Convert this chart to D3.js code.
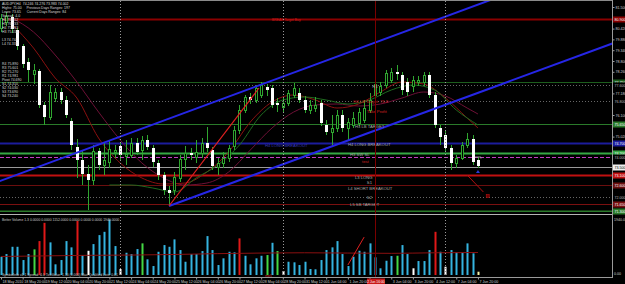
<!DOCTYPE html>
<html>
<head>
<meta charset="utf-8">
<script src="https://cdn.jsdelivr.net/npm/d3@7"></script>
<style>
    html, body { margin: 0; padding: 0; background: #000; }
    svg { display: block; font-family: "Liberation Sans", Arial, sans-serif; }
</style>
</head>
<body>
<svg id="chart" width="625" height="284"></svg>
<script>
// ---- chart data (AUDJPY, H4) ----
const timeLabels = ['18 May 2010', '18 May 20:00', '19 May 12:00', '20 May 04:00', '20 May 20:00',
    '21 May 12:00', '24 May 04:00', '24 May 20:00', '25 May 12:00', '26 May 04:00', '26 May 20:00',
    '27 May 12:00', '28 May 04:00', '28 May 20:00', '31 May 12:00', '1 Jun 04:00', '1 Jun 20:00',
    '2 Jun 12:00', '3 Jun 04:00', '3 Jun 20:00', '4 Jun 12:00', '7 Jun 04:00', '7 Jun 20:00'];

const opens = [80.45, 80.75, 81.00, 80.35, 79.55, 78.75, 78.15, 78.30, 76.60, 76.00,
    76.95, 77.25, 76.85, 75.80, 74.50, 73.85, 73.15, 72.85, 74.30, 73.60,
    73.75, 74.25, 74.55, 74.05, 74.10, 74.70, 74.35, 74.85, 74.45, 73.70,
    73.10, 72.35, 72.35, 72.95, 73.90, 74.20, 74.00, 74.20, 74.70, 74.35,
    73.50, 73.70, 73.95, 74.55, 75.35, 76.35, 77.00, 76.85, 77.10, 77.50,
    77.45, 76.70, 76.50, 76.70, 77.10, 77.20, 76.85, 76.35, 76.45, 76.70,
    75.60, 75.25, 75.45, 76.10, 75.45, 75.60, 75.70, 75.85, 76.35, 77.10,
    77.25, 77.60, 77.85, 78.25, 78.10, 77.75, 77.55, 77.75, 77.75, 78.10,
    77.10, 75.45, 75.10, 74.45, 73.70, 73.95, 74.60, 74.90, 73.85];
const highs = [81.15, 81.25, 81.15, 80.45, 79.65, 78.95, 78.65, 78.40, 76.75, 77.60,
    77.45, 77.45, 77.05, 75.95, 74.90, 74.35, 73.60, 74.60, 74.45, 74.70,
    74.85, 74.60, 74.75, 74.85, 74.95, 74.95, 75.05, 75.10, 74.60, 73.85,
    73.25, 72.55, 73.25, 74.10, 74.55, 74.45, 74.85, 74.95, 75.50, 74.50,
    73.95, 74.25, 74.60, 75.55, 76.60, 77.10, 77.20, 77.60, 77.75, 77.65,
    77.60, 76.95, 76.95, 77.35, 77.70, 77.45, 77.05, 76.85, 77.00, 76.85,
    75.85, 76.10, 76.35, 76.35, 75.95, 76.25, 76.45, 76.85, 77.20, 77.85,
    77.75, 78.35, 78.45, 78.60, 78.25, 77.95, 78.05, 78.05, 78.25, 78.25,
    77.25, 75.60, 75.35, 74.60, 74.10, 74.75, 75.20, 75.10, 74.00];
const lows = [80.25, 80.55, 80.20, 79.35, 78.45, 77.75, 77.65, 76.45, 75.60, 75.85,
    76.75, 76.65, 75.95, 74.35, 72.95, 72.60, 71.35, 72.60, 73.35, 73.10,
    73.45, 73.95, 73.85, 73.60, 73.95, 74.10, 73.85, 74.35, 73.50, 72.85,
    72.10, 71.55, 72.10, 72.75, 73.35, 73.85, 73.70, 73.95, 74.25, 73.35,
    73.10, 73.45, 73.75, 74.35, 75.15, 76.20, 76.65, 76.70, 76.95, 77.05,
    76.45, 76.25, 76.25, 76.55, 76.95, 76.70, 76.20, 76.15, 76.25, 75.55,
    75.10, 74.60, 75.25, 75.25, 74.85, 75.45, 75.55, 75.70, 76.20, 76.95,
    77.05, 77.45, 77.70, 77.85, 77.10, 77.05, 77.25, 77.55, 77.55, 76.95,
    75.45, 74.60, 74.25, 73.35, 73.45, 73.85, 74.45, 73.60, 73.45];
const closes = [80.95, 81.05, 80.40, 79.55, 78.65, 78.35, 78.35, 76.60, 76.00, 77.25,
    77.25, 76.85, 76.10, 74.60, 73.85, 73.15, 72.85, 74.30, 73.60, 73.85,
    74.40, 74.35, 74.10, 74.15, 74.70, 74.25, 74.85, 74.50, 73.75, 73.10,
    72.35, 72.20, 73.00, 73.90, 74.20, 74.10, 74.25, 74.70, 74.45, 73.55,
    73.70, 73.95, 74.45, 75.35, 76.35, 77.00, 76.85, 77.45, 77.60, 77.35,
    76.60, 76.60, 76.70, 77.20, 77.45, 76.85, 76.35, 76.60, 76.60, 75.70,
    75.25, 75.45, 76.10, 75.45, 75.75, 75.95, 76.25, 76.45, 76.85, 77.65,
    77.55, 78.20, 78.25, 78.15, 77.35, 77.25, 77.85, 77.85, 78.10, 77.10,
    75.60, 75.00, 74.45, 73.70, 73.95, 74.60, 74.90, 73.75, 73.55];

// Better Volume histogram
const volumes = [640, 735, 990, 990, 525, 735, 900, 1190, 1830, 1145,
    375, 525, 1190, 970, 1900, 700, 850, 1085, 1400, 1515,
    1950, 1015, 210, 780, 735, 910, 1110, 550, 315, 815,
    1050, 990, 1250, 875, 465, 735, 735, 840, 1365, 875,
    350, 585, 815, 795, 1285, 675, 375, 585, 675, 700,
    1130, 840, 140, 465, 445, 350, 465, 210, 200, 525,
    875, 970, 1190, 735, 315, 640, 850, 815, 1110, 620,
    235, 500, 665, 675, 1050, 735, 235, 490, 490, 875,
    1515, 815, 290, 875, 795, 780, 1110, 760, 115];
// n = normal, r = climax, g = churn, w = low volume, y = current bar
const volumeKinds = ('nnnnnngrrn' + 'nnnnrnwnnn' + 'nnwnnngnnn' + 'nnnnnnnnnn' + 'nnnnrnnnng' +
    'ngwnnnnnnn' + 'nnnnnnnnnn' + 'nnngnnwnnn' + 'rnwnnnnny').split('');
const volAvgIdx = [0, 8, 16, 24, 32, 40, 48, 56, 64, 72, 80, 88];
const volAvg = [650, 670, 690, 700, 720, 750, 770, 780, 770, 760, 780, 790];

// moving averages, read at sparse bars
const maIdx = [2, 6, 10, 14, 18, 22, 26, 30, 34, 38, 42, 46, 50, 54, 58, 62, 66, 70, 74, 78, 82, 86, 88];
const maFast = [80.65, 79.45, 77.95, 76.95, 74.95, 73.70, 72.95, 72.65, 72.70, 73.25, 74.25, 75.75,
    76.75, 77.10, 76.85, 76.45, 76.65, 77.25, 77.75, 77.65, 76.95, 75.95, 75.45];
const maSlow = [80.95, 80.25, 79.10, 77.75, 76.25, 74.85, 73.70, 72.95, 72.60, 72.70, 73.25, 74.35,
    75.45, 76.25, 76.60, 76.65, 76.55, 76.65, 76.95, 77.25, 77.05, 76.45, 76.15];
const maGreenIdx = [20, 24, 28, 32, 36, 40, 44, 48, 52, 56, 60, 64, 68, 72, 76, 80, 84, 88];
const maGreen = [72.60, 72.60, 72.45, 72.25, 72.95, 73.60, 74.60, 76.10, 76.85, 77.00, 76.85, 76.65,
    76.85, 77.35, 77.60, 77.35, 76.35, 75.60];

// horizontal levels
const levelNames = ['BREAK', 'R4', 'R4b', 'H4 LB', 'H3 LB', 'H4 LONG', 'H3 SW', 'BID', 'TEST', 'L3 LONG', 'S1', 'S2', 'L5 SB', 'L6'];
const levelPrices = [80.90, 77.75, 77.60, 76.80, 75.65, 74.70, 74.20, 74.00, 73.50, 73.10, 72.60, 72.00, 71.65, 71.30];

// trend objects: [bar index, price]
const upperChannel = [[0, 72.82], [88, 81.62]];
const lowerChannel = [[31, 71.55], [88, 77.21]];
const redTrend = [[31, 71.55], [47.6, 77.45]];
const redProjection = [[86, 73.10], [89, 72.25]];
const projectionMark = [89.8, 72.05];
const volTrend = [[64, 350], [67, 1330]];
const periodSeparators = [22, 52, 82];
const markedBar = 69;
const markedBarLabel = '2 Jun 16:00';

const priceTicks = [81.50, 80.96, 80.42, 79.88, 79.34, 78.80, 78.26, 77.72, 77.18, 76.64,
    76.10, 75.56, 75.02, 74.48, 73.94, 73.40, 72.86, 72.32, 71.78];

// object texts: [text, bar index, price]
const objectTexts = [
    ['BREAK Target Buy', 50, 80.85],
    ['R4', 68.5, 77.5],
    ['H4 LB Target: 76.8', 65, 76.75],
    ['Take Profit', 67.5, 76.25],
    ['H3 LB TARGET', 65.3, 75.5],
    ['H4 LONG BREAKOUT', 64, 74.62],
    ['H4 LONG BREAKOUT', 48.7, 74.55],
    ['H3 SW SL', 64.4, 74.12],
    ['test', 66.6, 73.75],
    ['L3 LONG', 65.3, 72.98],
    ['S1', 67.5, 72.7],
    ['L4 SHORT BREAKOUT', 64, 72.4],
    ['S2', 67.5, 71.95],
    ['L5 SB TARGET', 64.4, 71.6]
];

const infoLines = ['AUDJPY,H4  74.246 74.276 73.983 74.002', 'Highs: 75.00     Previous Days Ranges: 197',
    'Lows: 73.65      Current Days Ranges: 84', 'Spread: 4.0', 'H6 76.812', 'H5 76.233', 'H4 75.963',
    'H3 75.556', '', 'L3 74.744', 'L4 74.337', '', '', '', '', 'R4 75.890', 'R3 75.601', 'R2 75.270',
    'R1 74.981', 'Pivot 74.690', 'S1 74.310', 'S2 74.030', 'S3 73.690', 'S4 73.240'];
const volumeTitle = 'Better Volume 1.3  0.0000 0.0000 1152.0000 0.0000 0.0000 0.0000 1940.0000';
const footerText = 'SymbolInfo v1.1  Spread: 4.0  TickValue: 1.10 (1,000)  Max Qualified Lots: 0.01';

// ---- layout ----
const plotRight = 612;
const svg = d3.select('#chart');
svg.append('rect').attr('width', 625).attr('height', 284).attr('fill', '#000');

const x = d3.scaleLinear().domain([0, 88]).range([1, 477.96]);
const y = d3.scaleLinear().domain([71.25, 81.85]).range([212, 0]);
const yv = d3.scaleLinear().domain([0, 2000]).range([275, 218]);
const px = i => Math.round(x(i));

const defs = svg.append('defs');
defs.append('clipPath').attr('id', 'mainClip')
    .append('rect').attr('x', 0).attr('y', 1).attr('width', plotRight).attr('height', 211);
defs.append('clipPath').attr('id', 'volClip')
    .append('rect').attr('x', 0).attr('y', 216).attr('width', plotRight).attr('height', 61);

const main = svg.append('g').attr('clip-path', 'url(#mainClip)');
const vol = svg.append('g').attr('clip-path', 'url(#volClip)');

// level styles
const levelStyle = {
    'BREAK': { c: '#8b0000', w: 2 },
    'R4': { c: '#1d5e1d', w: 1 },
    'R4b': { c: '#666', w: 1, dash: '1,2' },
    'H4 LB': { c: '#666', w: 1, dash: '1,2' },
    'H3 LB': { c: '#2a7a2a', w: 1 },
    'H4 LONG': { c: '#1c1c9c', w: 2 },
    'H3 SW': { c: '#36a844', w: 2 },
    'BID': { c: '#c040c0', w: 1, dash: '4,2' },
    'TEST': { c: '#9a9a9a', w: 1 },
    'L3 LONG': { c: '#c01010', w: 2 },
    'S1': { c: '#6b0e0e', w: 1 },
    'S2': { c: '#666', w: 1, dash: '1,2' },
    'L5 SB': { c: '#7a1010', w: 1 },
    'L6': { c: '#2a7a2a', w: 2 }
};

main.selectAll('line.level')
    .data(levelPrices)
    .join('line')
    .attr('class', 'level')
    .attr('x1', 0).attr('x2', plotRight)
    .attr('y1', d => Math.round(y(d)) + 0.5)
    .attr('y2', d => Math.round(y(d)) + 0.5)
    .attr('stroke', (d, k) => levelStyle[levelNames[k]].c)
    .attr('stroke-width', (d, k) => levelStyle[levelNames[k]].w)
    .attr('stroke-dasharray', (d, k) => levelStyle[levelNames[k]].dash || null);

// period separators and the marked bar
svg.selectAll('line.sep')
    .data(periodSeparators)
    .join('line')
    .attr('x1', d => px(d) + 0.5).attr('x2', d => px(d) + 0.5)
    .attr('y1', 1).attr('y2', 277)
    .attr('stroke', '#9a9a9a').attr('stroke-width', 1).attr('stroke-dasharray', '1,2');

svg.append('line')
    .attr('x1', px(markedBar) + 0.5).attr('x2', px(markedBar) + 0.5)
    .attr('y1', 1).attr('y2', 277)
    .attr('stroke', '#7a0000').attr('stroke-width', 1);

// moving averages
const maLine = (idx, vals) => d3.line()
    .x((d, k) => x(idx[k]))
    .y(d => y(d))
    .curve(d3.curveMonotoneX)(vals);

main.append('path').attr('d', maLine(maIdx, maSlow))
    .attr('fill', 'none').attr('stroke', '#6e1036').attr('stroke-width', 1);
main.append('path').attr('d', maLine(maIdx, maFast))
    .attr('fill', 'none').attr('stroke', '#8b1010').attr('stroke-width', 1);
main.append('path').attr('d', maLine(maGreenIdx, maGreen))
    .attr('fill', 'none').attr('stroke', '#1f6a1f').attr('stroke-width', 1);

// candles
const bars = closes.map((c, i) => ({ i, o: opens[i], h: highs[i], l: lows[i], c }));
const candleGreen = '#2fa52f';

main.selectAll('line.wick')
    .data(bars)
    .join('line')
    .attr('class', 'wick')
    .attr('x1', d => px(d.i) + 0.5).attr('x2', d => px(d.i) + 0.5)
    .attr('y1', d => y(d.h)).attr('y2', d => y(d.l))
    .attr('stroke', candleGreen).attr('stroke-width', 1);

// bull bodies: black with green outline
main.selectAll('rect.bull')
    .data(bars.filter(d => d.c >= d.o))
    .join('rect')
    .attr('class', 'bull')
    .attr('x', d => px(d.i) - 0.5)
    .attr('y', d => Math.round(y(d.c)) + 0.5)
    .attr('width', 2)
    .attr('height', d => Math.max(1, Math.round(y(d.o)) - Math.round(y(d.c))))
    .attr('fill', '#000').attr('stroke', candleGreen).attr('stroke-width', 1);

// bear bodies: white
main.selectAll('rect.bear')
    .data(bars.filter(d => d.c < d.o))
    .join('rect')
    .attr('class', 'bear')
    .attr('x', d => px(d.i) - 1)
    .attr('y', d => Math.round(y(d.o)))
    .attr('width', 3)
    .attr('height', d => Math.max(1, Math.round(y(d.c)) - Math.round(y(d.o))))
    .attr('fill', '#fff');

// channel rays and trend lines
const extend = (a, b, from, to) => {
    const slope = (b[1] - a[1]) / (b[0] - a[0]);
    return [from, to].map(i => [x(i), y(a[1] + slope * (i - a[0]))]);
};
main.append('path').attr('d', d3.line()(extend(upperChannel[0], upperChannel[1], -2, 116)))
    .attr('stroke', '#2626e6').attr('stroke-width', 2).attr('fill', 'none');
main.append('path').attr('d', d3.line()(extend(lowerChannel[0], lowerChannel[1], lowerChannel[0][0], 116)))
    .attr('stroke', '#2626e6').attr('stroke-width', 2).attr('fill', 'none');
main.append('path').attr('d', d3.line()(redTrend.map(d => [x(d[0]), y(d[1])])))
    .attr('stroke', '#e02020').attr('stroke-width', 1.2).attr('fill', 'none');
main.append('path').attr('d', d3.line()(redProjection.map(d => [x(d[0]), y(d[1])])))
    .attr('stroke', '#b01010').attr('stroke-width', 1).attr('fill', 'none');
main.append('rect')
    .attr('x', x(projectionMark[0]) - 1.5).attr('y', y(projectionMark[1]) - 1.5)
    .attr('width', 3).attr('height', 3)
    .attr('fill', '#6b0000').attr('stroke', '#b01010').attr('stroke-width', 0.6);

// current bar marker + arrow
const last = bars[bars.length - 1];
main.append('path')
    .attr('d', `M${x(last.i) - 3},${y(74.0)} H${x(last.i) + 3} V${y(73.92)}`)
    .attr('stroke', '#aaa').attr('stroke-width', 0.8).attr('fill', 'none');
main.append('path')
    .attr('d', `M${x(last.i)},${y(last.l) + 2} l-2,3 h4 z`)
    .attr('fill', '#2a3ad8');

// object texts
const redTexts = ['BREAK Target Buy', 'H4 LB Target: 76.8', 'Take Profit', 'test'];
main.selectAll('text.obj')
    .data(objectTexts)
    .join('text')
    .attr('class', 'obj')
    .attr('x', d => x(d[1]))
    .attr('y', d => y(d[2]))
    .attr('dominant-baseline', 'middle')
    .attr('font-size', d => d[0] === 'BREAK Target Buy' ? 3.4 : 4.2)
    .attr('fill', (d, k) => redTexts.includes(d[0]) ? '#d42020' : (k === 6 ? '#3838b8' : '#a8a8a8'))
    .text(d => d[0]);

// info block, top left
svg.append('g').selectAll('text')
    .data(infoLines)
    .join('text')
    .attr('x', 2)
    .attr('y', (d, k) => 4.5 + k * 4)
    .attr('font-size', 3.5)
    .attr('fill', '#d8d8d8')
    .attr('xml:space', 'preserve')
    .text(d => d);

// ---- volume panel ----
const volColor = { n: '#35b4e0', r: '#e01818', g: '#44d844', w: '#ffffff', y: '#f2f2a8' };
vol.selectAll('rect.vbar')
    .data(volumes)
    .join('rect')
    .attr('class', 'vbar')
    .attr('x', (d, i) => px(i) - 0.5)
    .attr('y', d => yv(d))
    .attr('width', 2)
    .attr('height', d => yv(0) - yv(d))
    .attr('fill', (d, i) => volColor[volumeKinds[i]]);

vol.append('path')
    .attr('d', d3.line().x((d, k) => x(volAvgIdx[k])).y(d => yv(d)).curve(d3.curveMonotoneX)(volAvg))
    .attr('fill', 'none').attr('stroke', '#8b1010').attr('stroke-width', 1);

vol.append('path')
    .attr('d', d3.line()(volTrend.map(d => [x(d[0]), yv(d[1])])))
    .attr('stroke', '#e02020').attr('stroke-width', 1).attr('fill', 'none');

vol.append('text').attr('x', x(48.7)).attr('y', 276.5)
    .attr('font-size', 3.4).attr('fill', '#d42020').text('mp5');

svg.append('text').attr('x', 2).attr('y', 220.5)
    .attr('font-size', 3.4).attr('fill', '#c8c8c8').text(volumeTitle);
svg.append('text').attr('x', 2).attr('y', 275.5)
    .attr('font-size', 3.4).attr('fill', '#c8c8c8').text(footerText);

// ---- frames ----
svg.append('line').attr('x1', 0).attr('x2', plotRight).attr('y1', 0.5).attr('y2', 0.5)
    .attr('stroke', '#8a8a8a');
svg.append('line').attr('x1', 0).attr('x2', plotRight).attr('y1', 214.5).attr('y2', 214.5)
    .attr('stroke', '#b4b4b4');
svg.append('line').attr('x1', 0).attr('x2', plotRight).attr('y1', 277.5).attr('y2', 277.5)
    .attr('stroke', '#9a9a9a');
svg.append('line').attr('x1', plotRight + 0.5).attr('x2', plotRight + 0.5).attr('y1', 0).attr('y2', 278)
    .attr('stroke', '#9a9a9a');

// ---- right price axis (ticks hidden where a level box sits) ----
const boxedTicks = priceTicks.filter(t => !levelPrices.some(p => Math.abs(y(p) - y(t)) < 6));
const axisR = svg.append('g')
    .attr('transform', `translate(${plotRight + 0.5},0)`)
    .call(d3.axisRight(y).tickValues(boxedTicks).tickFormat(d3.format('.3f')).tickSize(2).tickPadding(1));
axisR.select('.domain').remove();
axisR.selectAll('line').attr('stroke', '#9a9a9a');
axisR.selectAll('text').attr('fill', '#cfcfcf').attr('font-size', 3.6)
    .attr('font-family', '"Liberation Sans", Arial, sans-serif');

// level price boxes on the axis
const boxes = svg.append('g').selectAll('g')
    .data(levelPrices)
    .join('g')
    .attr('transform', d => `translate(${plotRight + 1},${Math.round(y(d)) - 2.5})`);
boxes.append('rect')
    .attr('width', 13).attr('height', 6)
    .attr('fill', (d, k) => {
        const s = levelStyle[levelNames[k]];
        return s.dash ? '#000' : (levelNames[k] === 'TEST' ? '#f0f0f0' : s.c);
    });
boxes.append('text')
    .attr('x', 1.5).attr('y', 4.5)
    .attr('font-size', 3.6)
    .attr('fill', (d, k) => levelNames[k] === 'TEST' ? '#000' : (levelStyle[levelNames[k]].dash ? '#bbb' : '#fff'))
    .text(d => d3.format('.3f')(d));

// volume axis labels
svg.append('text').attr('x', 614).attr('y', 220.5).attr('font-size', 3.6).attr('fill', '#cfcfcf').text('1940.0');
svg.append('text').attr('x', 614).attr('y', 274.5).attr('font-size', 3.6).attr('fill', '#cfcfcf').text('0.00');

// ---- time axis (label under the marked-bar box is covered, as in the terminal) ----
const labelTicks = d3.range(0, 89, 4);
const axisB = svg.append('g')
    .attr('transform', 'translate(0,277.5)')
    .call(d3.axisBottom(x).tickValues(labelTicks)
        .tickFormat((d, k) => Math.abs(x(d) - x(markedBar)) < 14 ? '' : timeLabels[k])
        .tickSize(2).tickPadding(1));
axisB.select('.domain').remove();
axisB.selectAll('line').attr('stroke', '#9a9a9a');
axisB.selectAll('text')
    .attr('text-anchor', 'start')
    .attr('x', 1)
    .attr('fill', '#cfcfcf').attr('font-size', 3.6)
    .attr('font-family', '"Liberation Sans", Arial, sans-serif');

// marked bar time box
svg.append('rect').attr('x', x(markedBar) - 8).attr('y', 278.5).attr('width', 18).attr('height', 5.5)
    .attr('fill', '#c81818');
svg.append('text').attr('x', x(markedBar) + 1).attr('y', 282.8).attr('text-anchor', 'middle')
    .attr('font-size', 3.3).attr('fill', '#fff').text(markedBarLabel);
</script>
</body>
</html>
